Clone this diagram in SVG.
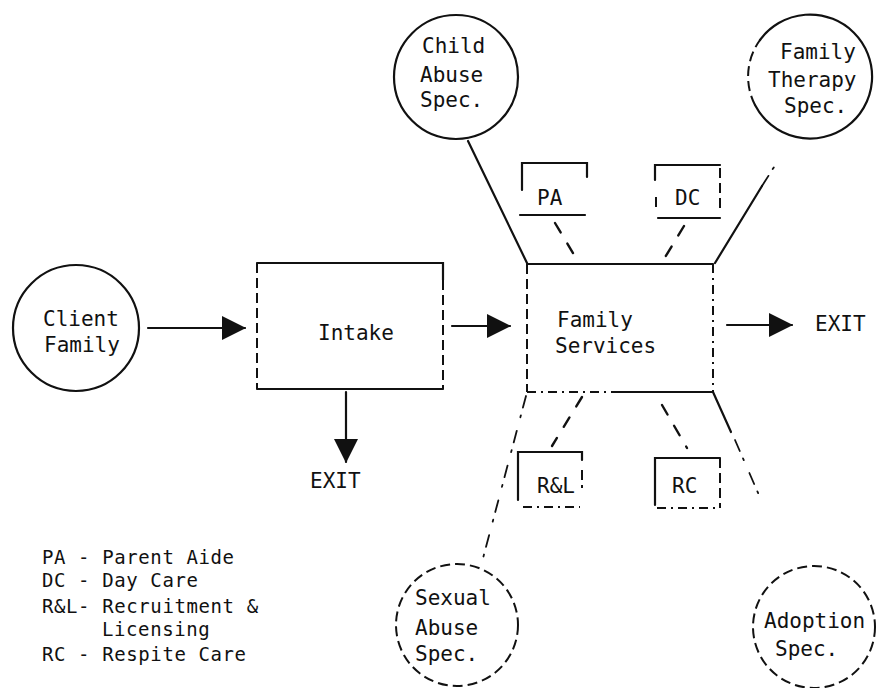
<svg xmlns="http://www.w3.org/2000/svg" width="877" height="688" viewBox="0 0 877 688">
<style>
  text { font-family: "DejaVu Sans Mono", "Liberation Mono", monospace; font-size: 21px; fill: #111; }
  .lg { font-size: 19px; letter-spacing: 0.6px; }
  .s { fill: none; stroke: #111; stroke-width: 2.2; stroke-linecap: round; }
  .d { fill: none; stroke: #111; stroke-width: 2; stroke-dasharray: 10 5; }
  .dd { fill: none; stroke: #111; stroke-width: 2; stroke-dasharray: 9 5 2 5; }
  .ds { fill: none; stroke: #111; stroke-width: 2.4; stroke-dasharray: 11 13; stroke-linecap: round; }
  .dt { fill: none; stroke: #111; stroke-width: 1.8; stroke-dasharray: 12 8 2 14; stroke-linecap: round; }
</style>
<defs>
  <marker id="arr" markerWidth="24" markerHeight="26" refX="23" refY="13" orient="auto" markerUnits="userSpaceOnUse">
    <path d="M0,1 L24,13 L0,25 Z" fill="#111"/>
  </marker>
</defs>
<rect width="877" height="688" fill="#fff"/>

<g id="connectors">
  <line class="s" x1="148" y1="328" x2="245" y2="328" marker-end="url(#arr)"/>
  <line class="s" x1="452" y1="326" x2="510" y2="326" marker-end="url(#arr)"/>
  <line class="s" x1="727" y1="325" x2="792" y2="325" marker-end="url(#arr)"/>
  <line class="s" x1="346" y1="392" x2="346" y2="462" marker-end="url(#arr)"/>
  <line class="s" x1="468" y1="141" x2="527" y2="263"/>
  <path class="s" d="M715,263 L762,186"/>
  <path class="dt" d="M762,186 L781,156"/>
  <line class="ds" x1="555" y1="223" x2="576" y2="258"/>
  <line class="ds" x1="684" y1="226" x2="664" y2="259"/>
  <line class="ds" x1="582" y1="397" x2="552" y2="446"/>
  <line class="ds" x1="662" y1="405" x2="687" y2="448"/>
  <path class="dt" d="M526,396 L482,562"/>
  <path class="s" d="M713,392 L731,432"/>
  <path class="dt" d="M735,440 L762,502"/>
</g>

<g id="client-family">
  <circle class="s" cx="76" cy="328" r="63"/>
  <text x="43" y="326">Client</text>
  <text x="44" y="352">Family</text>
</g>

<g id="intake">
  <path class="s" d="M257,263 L443,263 L443,280"/>
  <path class="d" d="M443,280 L443,389"/>
  <path class="d" d="M257,263 L257,389"/>
  <path class="s" d="M257,389 L443,389"/>
  <text x="318" y="340">Intake</text>
</g>

<g id="exit-intake">
  <text x="310" y="488">EXIT</text>
</g>

<g id="family-services">
  <path class="s" d="M527,264 L713,264"/>
  <path class="d" d="M527,264 L527,392"/>
  <path class="dd" d="M713,264 L713,392"/>
  <path class="dd" d="M527,392 L620,392"/>
  <path class="s" d="M620,392 L713,392"/>
  <text x="557" y="327">Family</text>
  <text x="555" y="353">Services</text>
</g>

<g id="exit-right">
  <text x="815" y="331">EXIT</text>
</g>

<g id="child-abuse-spec">
  <circle class="s" cx="456" cy="77" r="62"/>
  <text x="422" y="53">Child</text>
  <text x="420" y="82">Abuse</text>
  <text x="420" y="107">Spec.</text>
</g>

<g id="family-therapy-spec">
  <path class="s" d="M760,40 A62,62 0 1 1 755,105"/>
  <path class="d" d="M755,105 A62,62 0 0 1 760,40"/>
  <text x="780" y="59">Family</text>
  <text x="768" y="87">Therapy</text>
  <text x="784" y="113">Spec.</text>
</g>

<g id="pa">
  <path class="s" d="M522,190 L522,163 L587,163 L587,177"/>
  <path class="s" d="M520,215 L585,215"/>
  <text x="537" y="205">PA</text>
</g>

<g id="dc">
  <path class="s" d="M655,180 L655,165 L720,165"/>
  <path class="d" d="M656,197 L656,208"/>
  <path class="d" d="M720,168 L720,208"/>
  <path class="s" d="M658,218 L720,218"/>
  <text x="675" y="205">DC</text>
</g>

<g id="rl">
  <path class="s" d="M518,500 L518,452 L582,452 L582,460"/>
  <path class="d" d="M582,470 L582,488"/>
  <path class="dd" d="M523,507 L580,507"/>
  <text x="537" y="493">R&amp;L</text>
</g>

<g id="rc">
  <path class="s" d="M655,505 L655,458 L720,458"/>
  <path class="d" d="M720,458 L720,508"/>
  <path class="dd" d="M657,508 L720,508"/>
  <text x="672" y="493">RC</text>
</g>

<g id="sexual-abuse-spec">
  <circle class="d" cx="457" cy="625" r="61"/>
  <text x="415" y="605">Sexual</text>
  <text x="415" y="635">Abuse</text>
  <text x="415" y="661">Spec.</text>
</g>

<g id="adoption-spec">
  <circle class="d" cx="814" cy="627" r="61"/>
  <text x="764" y="628">Adoption</text>
  <text x="775" y="656">Spec.</text>
</g>

<g id="legend">
  <text class="lg" x="42" y="564">PA - Parent Aide</text>
  <text class="lg" x="42" y="587">DC - Day Care</text>
  <text class="lg" x="42" y="613">R&amp;L- Recruitment &amp;</text>
  <text class="lg" x="102" y="636">Licensing</text>
  <text class="lg" x="42" y="661">RC - Respite Care</text>
</g>
</svg>
